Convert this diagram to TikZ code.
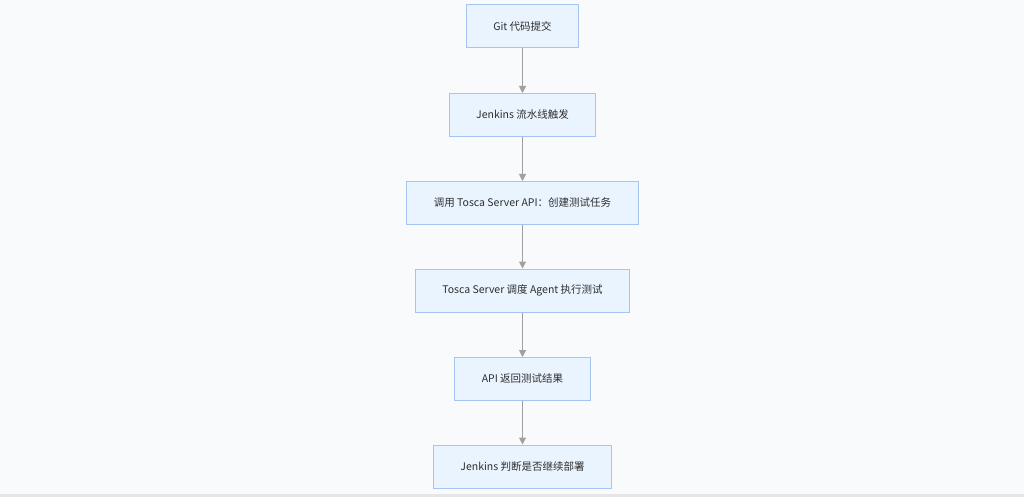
\documentclass[tikz,border=0pt]{standalone}
\usepackage{fontspec}
\setmainfont{Noto Sans CJK SC}
\usetikzlibrary{arrows.meta}
\definecolor{pagebg}{HTML}{F9FAFC}
\definecolor{stripbg}{HTML}{E6E6E8}
\definecolor{boxfill}{HTML}{EAF4FF}
\definecolor{boxline}{HTML}{A6C4F2}
\definecolor{flowline}{HTML}{A0A0A0}
\definecolor{labeltext}{HTML}{2E2E2E}

\begin{document}
\begin{tikzpicture}[x=1pt, y=-1pt,
    stepbox/.style={draw=boxline, line width=1pt, fill=boxfill, text=labeltext,
      minimum height=43pt, inner xsep=27pt, font=\fontsize{10.5}{13}\selectfont},
    flow/.style={draw=flowline, line width=1pt, -{Triangle[width=7pt,length=7pt]}}]
    \fill[pagebg] (0,0) rectangle (1024,497);
    \fill[stripbg] (0,494) rectangle (1024,497);
    \node[stepbox] (git) at (522.5, 26.5) {Git 代码提交};
    \node[stepbox] (jenkins) at (522.5, 115) {Jenkins 流水线触发};
    \node[stepbox] (api) at (522.5, 203) {调用 Tosca Server API：创建测试任务};
    \node[stepbox] (agent) at (522.5, 290.5) {Tosca Server 调度 Agent 执行测试};
    \node[stepbox] (result) at (522.5, 379) {API 返回测试结果};
    \node[stepbox] (deploy) at (522.5, 466.5) {Jenkins 判断是否继续部署};
    \draw [flow] (git) to (jenkins);
    \draw [flow] (jenkins) to (api);
    \draw [flow] (api) to (agent);
    \draw [flow] (agent) to (result);
    \draw [flow] (result) to (deploy);
  \end{tikzpicture}
\end{document}
